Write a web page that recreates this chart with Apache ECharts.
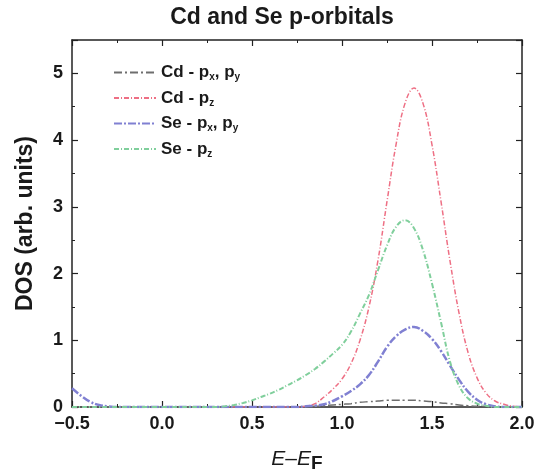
<!DOCTYPE html>
<html>
<head>
<meta charset="utf-8">
<script src="https://cdn.jsdelivr.net/npm/echarts@6/dist/echarts.min.js"></script>
<style>
  html, body { margin: 0; padding: 0; background: #fff; }
  #chart { width: 538px; height: 471px; }
</style>
</head>
<body>
<div id="chart"></div>
<script>
// energy grid (E - EF)
var xs = [-0.5,-0.45,-0.4,-0.35,-0.3,-0.25,-0.2,-0.15,-0.1,-0.05,
  0,0.05,0.1,0.15,0.2,0.25,0.3,0.35,0.4,0.45,
  0.5,0.55,0.6,0.65,0.7,0.75,0.8,0.85,0.9,0.95,
  1.0,1.05,1.1,1.15,1.2,1.25,1.3,1.35,1.4,1.45,
  1.5,1.55,1.6,1.65,1.7,1.75,1.8,1.85,1.9,1.95,2.0];

var cdPxPy = [0,0,0,0,0,0,0,0,0,0, 0,0,0,0,0,0,0,0,0,0, 0,0,0,0,0,0,
  0.01,0.01,0.02,0.03,0.04,0.05,0.07,0.08,0.09,0.1,0.1,0.1,0.1,0.09,0.08,0.06,0.05,0.03,0.02,0.01,0.01,0,0,0,0];

var cdPz = [0,0,0,0,0,0,0,0,0,0, 0,0,0,0,0,0,0,0,0,0, 0,0,0,0,0,0,0.01,
  0.05,0.15,0.27,0.42,0.65,1.0,1.5,2.2,3.08,3.93,4.55,4.78,4.55,3.93,3.08,2.19,1.41,0.82,0.44,0.21,0.09,0.04,0.01,0];

var sePxPy = [0.28,0.17,0.08,0.03,0.01,
  0,0,0,0,0,0,0,0,0,0,0,0,0,0,0,0,0,0,0,0,0,
  0.01,0.02,0.04,0.09,0.16,0.24,0.34,0.48,0.68,0.9,1.06,1.16,1.2,1.14,1.02,0.84,0.62,0.41,0.23,0.11,0.04,0.01,0,0,0];

var sePz = [0,0,0,0,0,0,0,0,0,0, 0,0,0,0,0,0,0,
  0.01,0.03,0.06,0.1,0.15,0.2,0.26,0.33,0.4,0.48,0.57,0.68,0.8,
  0.93,1.13,1.4,1.68,2.05,2.42,2.7,2.8,2.68,2.35,1.85,1.27,0.68,0.32,0.13,0.05,0.02,0,0,0,0];

var seriesNames = ['Cd - px, py', 'Cd - pz', 'Se - px, py', 'Se - pz'];
var legendRich = {
  'Cd - px, py': '{b|Cd - p}{s|x}{b|, p}{s|y}',
  'Cd - pz': '{b|Cd - p}{s|z}',
  'Se - px, py': '{b|Se - p}{s|x}{b|, p}{s|y}',
  'Se - pz': '{b|Se - p}{s|z}'
};
var colors = ['#6e6e6e', '#ee6f84', '#8080d2', '#80cf9c'];

function pairs(ys) {
  return xs.map(function (x, i) { return [x, ys[i]]; });
}

var font = '"Liberation Sans", Arial, sans-serif';
var ink = '#1a1a1a';
var chart = echarts.init(document.getElementById('chart'));

function line(name, ys, color, width, dash) {
  return {
    name: name, type: 'line', data: pairs(ys),
    symbol: 'none', showSymbol: false, smooth: 0.4,
    lineStyle: { color: color, width: width, type: dash },
    itemStyle: { color: color }
  };
}

function frameAxis(extra) {
  var a = {
    type: 'value',
    axisLine: { onZero: false, lineStyle: { color: '#222', width: 1.5 } },
    axisTick: { inside: true, length: 6, lineStyle: { color: '#222', width: 1.2 } },
    minorTick: { show: true, splitNumber: 2, length: 3, lineStyle: { color: '#222' } },
    splitLine: { show: false },
    axisLabel: { show: false }
  };
  return Object.assign(a, extra);
}

var option = {
  animation: false,
  color: colors,
  textStyle: { fontFamily: font },
  title: {
    text: 'Cd and Se p-orbitals',
    left: 277, top: 1, textAlign: 'center',
    textStyle: { fontFamily: font, fontSize: 23, fontWeight: 'bold', color: ink }
  },
  legend: {
    data: seriesNames,
    orient: 'vertical',
    left: 108, top: 59,
    itemWidth: 42, itemHeight: 14, itemGap: 7,
    itemStyle: { opacity: 0 },
    formatter: function (n) { return legendRich[n]; },
    textStyle: {
      rich: {
        b: { fontFamily: font, fontSize: 17, fontWeight: 'bold', color: ink },
        s: { fontFamily: font, fontSize: 10, fontWeight: 'bold', color: ink, padding: [10, 0, 0, 0] }
      }
    }
  },
  grid: { left: 72, right: 16, top: 40, bottom: 64, outerBoundsMode: 'none' },
  xAxis: [frameAxis({
    min: -0.5, max: 2.0, interval: 0.5,
    name: '{i|E}{m|\u2013}{i|E}{f|F}', nameLocation: 'middle', nameGap: 38,
    nameTextStyle: {
      rich: {
        i: { fontFamily: font, fontSize: 21, fontStyle: 'italic', color: ink },
        m: { fontFamily: font, fontSize: 21, color: ink },
        f: { fontFamily: font, fontSize: 19, fontWeight: 'bold', color: ink, padding: [9, 0, 0, 0] }
      }
    },
    axisLabel: {
      margin: 8, fontSize: 18, fontWeight: 'bold', color: ink,
      formatter: function (v) { return v.toFixed(1).replace('-', '\u2212'); }
    }
  }), frameAxis({
    position: 'top', min: -0.5, max: 2.0, interval: 0.5
  })],
  yAxis: [frameAxis({
    min: 0, max: 5.5, interval: 1,
    name: 'DOS (arb. units)', nameLocation: 'middle', nameGap: 35,
    nameTextStyle: { fontFamily: font, fontSize: 23, fontWeight: 'bold', color: ink },
    axisLabel: {
      margin: 9, fontSize: 18, fontWeight: 'bold', color: ink,
      formatter: function (v) { return Number.isInteger(v) ? String(v) : ''; }
    }
  }), frameAxis({
    position: 'right', min: 0, max: 5.5, interval: 1
  })],
  series: [
    line(seriesNames[0], cdPxPy, colors[0], 1.5, [8, 3, 2, 3]),
    line(seriesNames[1], cdPz, colors[1], 1.5, [5, 2, 1, 2]),
    line(seriesNames[2], sePxPy, colors[2], 2.5, [8, 2, 2, 2]),
    line(seriesNames[3], sePz, colors[3], 2, [5, 2, 1, 2])
  ]
};

chart.setOption(option);
</script>
</body>
</html>
